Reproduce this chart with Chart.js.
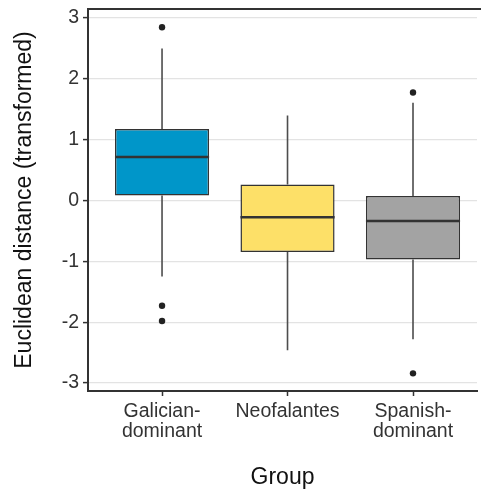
<!DOCTYPE html>
<html>
<head>
<meta charset="utf-8">
<script src="https://cdn.jsdelivr.net/npm/chart.js@4.4.1/dist/chart.umd.min.js"></script>
<style>
  html, body { margin: 0; padding: 0; background: #fff; }
  #wrap { width: 481px; height: 491px; }
</style>
</head>
<body>
<div id="wrap"><canvas id="chart"></canvas></div>
<script>
// Data
const groups = ['Galician-dominant', 'Neofalantes', 'Spanish-dominant'];
const tickLabels = [['Galician-', 'dominant'], ['Neofalantes'], ['Spanish-', 'dominant']];
const yTicks = [-3, -2, -1, 0, 1, 2, 3];

const q1 = [0.08, -0.85, -0.97];
const medians = [0.71, -0.28, -0.34];
const q3 = [1.17, 0.26, 0.07];
const whiskerLow = [-1.25, -2.46, -2.28];
const whiskerHigh = [2.49, 1.39, 1.60];
const outliers = [[2.84, -1.73, -1.98], [], [1.77, -2.84]];

const boxColors = ['#0096c9', '#fde068', '#a3a3a3'];
const lineColor = '#333333';

// Whiskers, medians and the top frame line, drawn with the chart scales
const boxPlotExtras = {
    id: 'boxPlotExtras',
    beforeDatasetsDraw(chart) {
        const { ctx, scales: { x, y } } = chart;
        ctx.save();
        ctx.strokeStyle = '#4d4d4d';
        ctx.lineWidth = 1.6;
        groups.forEach((g, i) => {
            const px = x.getPixelForValue(i);
            ctx.beginPath();
            ctx.moveTo(px, y.getPixelForValue(whiskerHigh[i]));
            ctx.lineTo(px, y.getPixelForValue(q3[i]));
            ctx.moveTo(px, y.getPixelForValue(q1[i]));
            ctx.lineTo(px, y.getPixelForValue(whiskerLow[i]));
            ctx.stroke();
        });
        ctx.restore();
    },
    afterDatasetsDraw(chart) {
        const { ctx, chartArea, scales: { y } } = chart;
        const meta = chart.getDatasetMeta(0);
        ctx.save();
        ctx.strokeStyle = lineColor;
        ctx.lineWidth = 2.5;
        groups.forEach((g, i) => {
            const bar = meta.data[i];
            const half = bar.width / 2;
            const py = y.getPixelForValue(medians[i]);
            ctx.beginPath();
            ctx.moveTo(bar.x - half, py);
            ctx.lineTo(bar.x + half, py);
            ctx.stroke();
        });
        // top frame line
        ctx.lineWidth = 2;
        ctx.beginPath();
        ctx.moveTo(chartArea.left - 1, chartArea.top);
        ctx.lineTo(chart.width, chartArea.top);
        ctx.stroke();
        ctx.restore();
    }
};

const outlierPoints = [];
outliers.forEach((vals, i) => vals.forEach(v => outlierPoints.push({ x: i, y: v })));

new Chart(document.getElementById('chart'), {
    type: 'bar',
    data: {
        datasets: [
            {
                type: 'bar',
                data: groups.map((g, i) => ({ x: i, y: [q1[i], q3[i]] })),
                backgroundColor: boxColors,
                borderColor: lineColor,
                borderWidth: 1.5,
                borderSkipped: false,
                categoryPercentage: 1,
                barPercentage: 0.75,
                order: 2
            },
            {
                type: 'scatter',
                data: outlierPoints,
                pointRadius: 3.2,
                pointBackgroundColor: '#222',
                pointBorderWidth: 0,
                order: 1
            }
        ]
    },
    options: {
        responsive: true,
        maintainAspectRatio: false,
        animation: false,
        layout: { padding: { top: 9, right: 0, left: 0, bottom: 0 } },
        plugins: {
            legend: { display: false },
            tooltip: { enabled: false }
        },
        scales: {
            x: {
                type: 'linear',
                offset: false,
                min: -0.59,
                max: 2.51,
                afterBuildTicks: axis => { axis.ticks = groups.map((g, i) => ({ value: i })); },
                afterFit: axis => { axis.height = 100; axis.paddingLeft = 0; axis.paddingRight = 0; },
                ticks: {
                    color: '#333',
                    font: { family: 'Liberation Sans, Arial, sans-serif', size: 19.5, lineHeight: 1.05 },
                    padding: 5,
                    maxRotation: 0,
                    autoSkip: false,
                    callback: v => tickLabels[v]
                },
                grid: { offset: false, drawOnChartArea: false, drawTicks: true, tickLength: 5, tickColor: lineColor, tickWidth: 1.5 },
                border: { color: lineColor, width: 2 },
                title: {
                    display: true,
                    text: 'Group',
                    color: '#111',
                    font: { family: 'Liberation Sans, Arial, sans-serif', size: 23 },
                    padding: { top: 0, bottom: 0 }
                }
            },
            y: {
                type: 'linear',
                min: -3.13,
                max: 3.14,
                afterBuildTicks: axis => { axis.ticks = yTicks.map(v => ({ value: v })); },
                afterFit: axis => { axis.width = 88; axis.paddingTop = 0; axis.paddingBottom = 0; },
                ticks: {
                    color: '#333',
                    font: { family: 'Liberation Sans, Arial, sans-serif', size: 19.5 },
                    padding: 4
                },
                grid: { color: '#e3e3e3', lineWidth: 1.2, tickLength: 5, tickColor: lineColor, tickWidth: 1.5 },
                border: { color: lineColor, width: 2 },
                title: {
                    display: true,
                    text: 'Euclidean distance (transformed)',
                    color: '#111',
                    font: { family: 'Liberation Sans, Arial, sans-serif', size: 23 },
                    padding: { top: 11, bottom: 0 }
                }
            }
        }
    },
    plugins: [boxPlotExtras]
});
</script>
</body>
</html>
